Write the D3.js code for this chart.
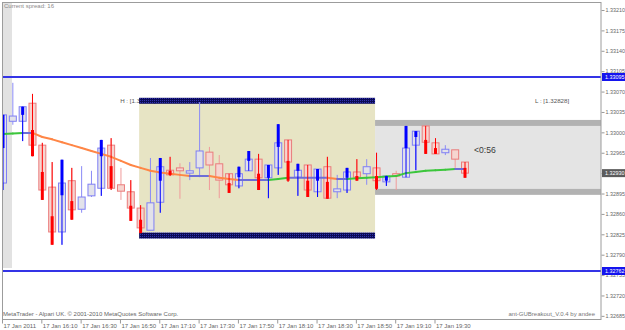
<!DOCTYPE html>
<html>
<head>
<meta charset="utf-8">
<script src="https://cdn.jsdelivr.net/npm/d3@7"></script>
<style>
    body {margin: 0; background: #fff;}
    svg {display: block; font-family: "Liberation Sans", Arial, sans-serif;}
</style>
</head>
<body>
<div id="chart"></div>
<script>
// M5 bars, 17 Jan 2011 15:50 .. 19:45
const open = [1.32913, 1.33019, 1.33019, 1.33050, 1.32978, 1.32906, 1.32829, 1.32917, 1.32868, 1.32891, 1.32904, 1.32978, 1.32910, 1.32898, 1.32870, 1.32832, 1.32880, 1.32935, 1.32939, 1.32930, 1.32939, 1.32966, 1.32946, 1.32929, 1.32908, 1.32934, 1.32954, 1.32922, 1.32939, 1.32987, 1.32923, 1.32944, 1.32898, 1.32941, 1.32898, 1.32901, 1.32932, 1.32929, 1.32939, 1.32915, 1.32929, 1.32923, 1.32978, 1.33011, 1.32982, 1.32965, 1.32970, 1.32949];
const high = [1.33030, 1.33085, 1.33044, 1.33066, 1.32982, 1.32949, 1.32953, 1.32939, 1.32942, 1.32934, 1.32987, 1.32990, 1.32939, 1.32918, 1.32875, 1.32956, 1.32956, 1.32958, 1.32947, 1.32949, 1.33052, 1.32975, 1.32961, 1.32929, 1.32941, 1.32968, 1.32963, 1.32944, 1.33014, 1.32987, 1.32946, 1.32944, 1.32937, 1.32958, 1.32927, 1.32939, 1.32954, 1.32954, 1.32965, 1.32925, 1.32934, 1.33011, 1.33002, 1.33011, 1.32990, 1.32978, 1.32970, 1.32949];
const low = [1.32901, 1.33013, 1.32985, 1.32959, 1.32884, 1.32807, 1.32807, 1.32850, 1.32862, 1.32889, 1.32891, 1.32901, 1.32884, 1.32848, 1.32827, 1.32832, 1.32862, 1.32925, 1.32886, 1.32918, 1.32923, 1.32901, 1.32887, 1.32896, 1.32904, 1.32934, 1.32901, 1.32887, 1.32927, 1.32915, 1.32891, 1.32889, 1.32889, 1.32886, 1.32887, 1.32896, 1.32917, 1.32910, 1.32901, 1.32908, 1.32901, 1.32923, 1.32935, 1.32963, 1.32963, 1.32961, 1.32939, 1.32922];
const close = [1.33030, 1.33028, 1.33044, 1.32978, 1.32901, 1.32829, 1.32913, 1.32867, 1.32889, 1.32911, 1.32973, 1.32904, 1.32899, 1.32870, 1.32836, 1.32879, 1.32941, 1.32927, 1.32934, 1.32934, 1.32968, 1.32944, 1.32918, 1.32910, 1.32929, 1.32954, 1.32922, 1.32944, 1.32982, 1.32949, 1.32935, 1.32901, 1.32937, 1.32887, 1.32903, 1.32932, 1.32923, 1.32941, 1.32917, 1.32925, 1.32925, 1.32973, 1.33002, 1.32983, 1.32963, 1.32971, 1.32954, 1.32930];

// heiken ashi bodies (null where not drawn)
const haOpen = [1.32973, null, 1.33030, 1.33004, 1.32932, 1.32856, 1.32892, 1.32882, null, null, 1.32959, 1.32942, null, 1.32874, 1.32850, null, 1.32917, 1.32934, null, null, null, null, null, 1.32913, 1.32923, 1.32951, 1.32929, 1.32922, 1.32975, 1.32951, 1.32934, 1.32917, 1.32917, 1.32915, null, 1.32922, 1.32925, null, 1.32925, 1.32917, null, 1.32973, 1.32992, 1.32987, 1.32973, null, null, 1.32939];
const haClose = [1.33030, null, 1.33044, 1.32959, 1.32884, 1.32807, 1.32953, 1.32850, null, null, 1.32987, 1.32904, null, 1.32848, 1.32827, null, 1.32956, 1.32927, null, null, null, null, null, 1.32896, 1.32941, 1.32968, 1.32901, 1.32944, 1.33014, 1.32917, 1.32946, 1.32889, 1.32937, 1.32886, null, 1.32939, 1.32917, null, 1.32903, 1.32925, null, 1.33011, 1.33002, 1.32963, 1.32963, null, null, 1.32922];

// moving average, coloured by slope
const ma = [1.32997, 1.32998, 1.32999, 1.32999, 1.32992, 1.32988, 1.32983, 1.32978, 1.32973, 1.32968, 1.32963, 1.32958, 1.32951, 1.32944, 1.32939, 1.32934, 1.32931, 1.32929, 1.32927, 1.32925, 1.32925, 1.32925, 1.32922, 1.32920, 1.32918, 1.32918, 1.32918, 1.32918, 1.32920, 1.32922, 1.32922, 1.32922, 1.32922, 1.32922, 1.32920, 1.32920, 1.32921, 1.32922, 1.32923, 1.32924, 1.32925, 1.32930, 1.32932, 1.32934, 1.32935, 1.32936, 1.32937, 1.32937];

const timeTickBars = [0, 4, 8, 12, 16, 20, 24, 28, 32, 36, 40, 44];
const timeLabels = ["17 Jan 2011", "17 Jan 16:10", "17 Jan 16:30", "17 Jan 16:50", "17 Jan 17:10", "17 Jan 17:30", "17 Jan 17:50", "17 Jan 18:10", "17 Jan 18:30", "17 Jan 18:50", "17 Jan 19:10", "17 Jan 19:30"];
const priceTicks = [1.33210, 1.33175, 1.33140, 1.33105, 1.33070, 1.33035, 1.33000, 1.32965, 1.32930, 1.32895, 1.32860, 1.32825, 1.32790, 1.32755, 1.32720, 1.32685];

const levelLines = [1.33095, 1.32762];
const lastPrice = 1.32930;
const rangeBars = [14, 38];
const rangeHigh = 1.33049;
const rangeLow = 1.32828;
const zoneHigh = 1.33011;
const zoneLow = 1.32903;
const spread = 16;
const timeLeft = "0:56";

const width = 625;
const height = 330;
const plot = {left: 2, top: 2, right: 601, bottom: 319};

const n = open.length;
const x = d3.scaleLinear().domain([0, n - 1]).range([3, 465]);
const y = d3.scaleLinear().domain([levelLines[0], levelLines[1]]).range([77, 271]);

const svg = d3.select("#chart")
    .append("svg")
    .attr("width", width)
    .attr("height", height);

svg.append("defs").append("clipPath")
    .attr("id", "plotClip")
    .append("rect")
    .attr("x", plot.left).attr("y", plot.top)
    .attr("width", plot.right - plot.left).attr("height", plot.bottom - plot.top);

const dots = svg.select("defs").append("pattern")
    .attr("id", "dots")
    .attr("width", 2).attr("height", 2)
    .attr("patternUnits", "userSpaceOnUse");
dots.append("rect").attr("width", 2).attr("height", 2).attr("fill", "#0a0a55");
dots.append("rect").attr("width", 1).attr("height", 1).attr("fill", "#3030b0");

const graph = svg.append("g").attr("clip-path", "url(#plotClip)");

// first-bar strip
graph.append("rect")
    .attr("x", plot.left).attr("y", plot.top)
    .attr("width", 10).attr("height", 266)
    .attr("fill", "#e2e2e2");

// session range box
const boxX0 = x(rangeBars[0] - 0.15);
const boxX1 = x(rangeBars[1] - 0.15);
graph.append("rect")
    .attr("x", boxX0).attr("y", y(rangeHigh))
    .attr("width", boxX1 - boxX0).attr("height", y(rangeLow) - y(rangeHigh))
    .attr("fill", "#e7e4c4");

// breakout zone
graph.append("rect")
    .attr("x", boxX1).attr("y", y(zoneHigh))
    .attr("width", plot.right - boxX1).attr("height", y(zoneLow) - y(zoneHigh))
    .attr("fill", "#e4e4e4");
graph.append("rect")
    .attr("x", boxX1).attr("y", y(zoneHigh) - 6)
    .attr("width", plot.right - boxX1).attr("height", 6)
    .attr("fill", "#b2b2b2");
graph.append("rect")
    .attr("x", boxX1).attr("y", y(zoneLow))
    .attr("width", plot.right - boxX1).attr("height", 6)
    .attr("fill", "#b2b2b2");

graph.append("text")
    .attr("x", boxX0 - 19).attr("y", y(rangeHigh) - 3)
    .attr("dy", "0.35em")
    .attr("font-size", 6.2)
    .attr("fill", "#555")
    .text(`H : [${rangeHigh.toFixed(5)}]`);

graph.append("rect")
    .attr("x", boxX0).attr("y", y(rangeHigh) - 6)
    .attr("width", boxX1 - boxX0).attr("height", 6)
    .attr("fill", "url(#dots)");
graph.append("rect")
    .attr("x", boxX0).attr("y", y(rangeLow))
    .attr("width", boxX1 - boxX0).attr("height", 6)
    .attr("fill", "url(#dots)");

graph.append("text")
    .attr("x", 535).attr("y", y(rangeHigh) - 3)
    .attr("dy", "0.35em")
    .attr("font-size", 6.2)
    .attr("fill", "#555")
    .text(`L : [${rangeLow.toFixed(5)}]`);

// level lines
graph.selectAll(".level")
    .data(levelLines)
    .join("line")
    .attr("class", "level")
    .attr("x1", plot.left).attr("x2", plot.right)
    .attr("y1", d => y(d)).attr("y2", d => y(d))
    .attr("stroke", "#3434e6")
    .attr("stroke-width", 2);

const bars = d3.range(n);
const bull = i => close[i] >= open[i];

// light candles
graph.selectAll(".wick")
    .data(bars)
    .join("line")
    .attr("class", "wick")
    .attr("x1", i => x(i)).attr("x2", i => x(i))
    .attr("y1", i => y(high[i])).attr("y2", i => y(low[i]))
    .attr("stroke", i => bull(i) ? "#8a8af6" : "#f09a9a");

graph.selectAll(".body")
    .data(bars)
    .join("rect")
    .attr("class", "body")
    .attr("x", i => x(i) - 3.5)
    .attr("y", i => y(Math.max(open[i], close[i])))
    .attr("width", 7)
    .attr("height", i => Math.max(1, Math.abs(y(open[i]) - y(close[i]))))
    .attr("fill", i => bull(i) ? "#e2e2ea" : "#f6d5d0")
    .attr("stroke", i => bull(i) ? "#7f7ff4" : "#ea7c7c");

// moving average
const maColor = i => {
    const diff = ma[i] - ma[i - 1];
    if (diff > 1e-7) return "#3cc63c";
    if (diff < -1e-7) return "#ff8646";
    return "#6d6dd8";
};
graph.selectAll(".ma")
    .data(bars.slice(1))
    .join("line")
    .attr("class", "ma")
    .attr("x1", i => x(i - 1)).attr("x2", i => x(i))
    .attr("y1", i => y(ma[i - 1])).attr("y2", i => y(ma[i]))
    .attr("stroke", maColor)
    .attr("stroke-width", 2)
    .attr("stroke-linecap", "round");

// heiken ashi
const haBars = bars.filter(i => haOpen[i] !== null);
const haColor = i => haClose[i] >= haOpen[i] ? "#0000ff" : "#ff0000";
graph.selectAll(".ha-wick")
    .data(haBars)
    .join("line")
    .attr("class", "ha-wick")
    .attr("x1", i => x(i)).attr("x2", i => x(i))
    .attr("y1", i => y(high[i])).attr("y2", i => y(low[i]))
    .attr("stroke", haColor);
graph.selectAll(".ha-body")
    .data(haBars)
    .join("line")
    .attr("class", "ha-body")
    .attr("x1", i => x(i)).attr("x2", i => x(i))
    .attr("y1", i => y(haOpen[i])).attr("y2", i => y(haClose[i]))
    .attr("stroke", haColor)
    .attr("stroke-width", 3);

graph.append("text")
    .attr("x", x(n - 1) + 9).attr("y", y(lastPrice) - 23)
    .attr("dy", "0.35em")
    .attr("font-size", 8.6)
    .attr("fill", "#3a3a3a")
    .text(`<${timeLeft}`);

graph.append("text")
    .attr("x", 4).attr("y", 6)
    .attr("dy", "0.35em")
    .attr("font-size", 6)
    .attr("fill", "#8a8a8a")
    .text(`Current spread: ${spread}`);

graph.append("text")
    .attr("x", 3).attr("y", 314)
    .attr("dy", "0.35em")
    .attr("font-size", 6)
    .attr("fill", "#666")
    .text("MetaTrader - Alpari UK. \u00a9 2001-2010 MetaQuotes Software Corp.");

graph.append("text")
    .attr("x", 595).attr("y", 314)
    .attr("dy", "0.35em")
    .attr("text-anchor", "end")
    .attr("font-size", 6)
    .attr("fill", "#777")
    .text("ant-GUBreakout_V.0.4 by andee");

// frame
svg.append("rect")
    .attr("x", plot.left + 0.5).attr("y", plot.top + 0.5)
    .attr("width", plot.right - plot.left - 0.5).attr("height", plot.bottom - plot.top)
    .attr("fill", "none")
    .attr("stroke", "#9c9c9c");

// axes
const yAxis = svg.append("g")
    .attr("transform", `translate(${plot.right + 0.5}, 0)`)
    .call(d3.axisRight(y).tickValues(priceTicks).tickSize(3).tickPadding(1).tickFormat(d3.format(".5f")));
yAxis.select(".domain").remove();
yAxis.selectAll("line").attr("stroke", "#999");
yAxis.selectAll("text")
    .attr("font-size", 5.4)
    .attr("font-family", "Liberation Sans, Arial, sans-serif")
    .attr("fill", "#666");

const xAxis = svg.append("g")
    .attr("transform", `translate(-1, ${plot.bottom + 0.5})`)
    .call(d3.axisBottom(x).tickValues(timeTickBars).tickSize(4).tickPadding(0).tickFormat((d, i) => timeLabels[i]));
xAxis.select(".domain").remove();
xAxis.selectAll("line").attr("stroke", "#999");
xAxis.selectAll("text")
    .attr("text-anchor", "start")
    .attr("x", 1)
    .attr("font-size", 6)
    .attr("font-family", "Liberation Sans, Arial, sans-serif")
    .attr("fill", "#666");

// price markers on the axis
const markers = [
    {v: levelLines[0], bg: "#1414ee"},
    {v: lastPrice, bg: "#5c5c5c"},
    {v: levelLines[1], bg: "#1414ee"}
];
const mk = svg.selectAll(".marker")
    .data(markers)
    .join("g")
    .attr("class", "marker")
    .attr("transform", d => `translate(${plot.right + 1}, ${y(d.v)})`);
mk.append("rect")
    .attr("x", 0).attr("y", -4)
    .attr("width", 24).attr("height", 8)
    .attr("fill", d => d.bg);
mk.append("text")
    .attr("x", 3).attr("dy", "0.35em")
    .attr("font-size", 5.4)
    .attr("fill", "#fff")
    .text(d => d.v.toFixed(5));
</script>
</body>
</html>
